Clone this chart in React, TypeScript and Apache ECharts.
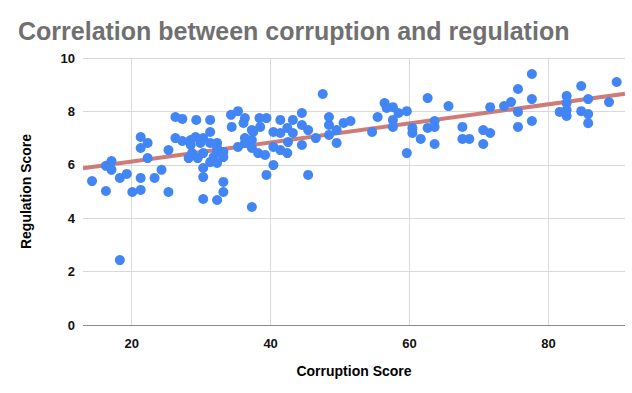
import React, { useEffect, useRef } from "react";
import * as echarts from "echarts";

const corruption: number[] = [
  14.3, 16.3, 16.3, 17.1, 17.1, 18.3, 18.3, 19.3, 20.1, 21.3, 21.3, 21.3, 21.3, 22.3, 22.3, 23.3, 24.3, 25.3, 25.3, 26.3,
  27.3, 26.3, 27.3, 29.3, 31.3, 28.5, 29.2, 28.5, 29.9, 30.3, 31.3, 31.3, 32.3, 28.7, 29.5, 30.3, 32.3, 33.2, 31.3, 32.3,
  30.3, 30.3, 33.2, 33.2, 30.3, 32.3, 28.2, 31.8, 33.2, 32.3, 34.3, 35.3, 36.3, 34.4, 36.1, 38.4, 39.4, 38.5, 37.5, 37.3,
  35.3, 36.3, 37.3, 38.2, 39.2, 40.4, 41.4, 42.4, 40.4, 39.4, 37.3, 41.4, 42.4, 40.4, 41.4, 36.3, 37.3, 42.5, 43.2, 43.2,
  44.5, 44.5, 44.5, 45.4, 45.4, 46.5, 47.5, 48.4, 48.4, 48.4, 49.5, 49.5, 50.5, 51.5, 54.6, 55.4, 56.4, 56.7, 57.6, 57.6,
  57.6, 58.4, 59.6, 59.6, 60.4, 60.4, 61.6, 62.6, 62.6, 63.6, 63.6, 63.6, 65.6, 67.6, 67.6, 68.6, 70.6, 71.6, 70.6, 71.6,
  73.6, 74.6, 75.6, 75.6, 75.6, 77.6, 77.6, 77.6, 81.6, 82.6, 82.6, 82.6, 82.6, 84.7, 84.7, 85.7, 85.7, 85.7, 88.7, 89.8,
];

const regulation: number[] = [
  5.39, 5.02, 5.96, 6.14, 5.81, 2.43, 5.51, 5.66, 4.98, 5.06, 5.51, 7.04, 6.63, 6.82, 6.25, 5.51, 5.81, 4.98, 6.55, 7.79,
  7.72, 7.0, 6.89, 7.68, 7.68, 6.93, 7.04, 6.74, 6.82, 7.0, 7.23, 6.82, 6.82, 6.44, 6.25, 6.44, 6.48, 6.48, 6.1, 6.07,
  5.88, 5.54, 5.36, 4.98, 4.72, 4.68, 6.25, 6.29, 6.29, 6.63, 7.87, 8.01, 7.75, 7.42, 7.57, 7.75, 7.75, 7.42, 7.23, 6.93,
  6.67, 6.82, 6.63, 6.44, 6.37, 6.67, 6.55, 6.44, 5.99, 5.62, 4.42, 7.68, 7.38, 7.23, 7.19, 7.0, 7.3, 6.85, 7.68, 7.19,
  7.94, 7.49, 6.74, 7.3, 5.62, 7.0, 8.65, 7.79, 7.49, 7.12, 7.3, 6.82, 7.57, 7.64, 7.23, 7.79, 8.31, 8.13, 8.16, 7.68,
  7.42, 7.94, 8.01, 6.44, 7.38, 7.19, 6.97, 8.5, 7.38, 7.64, 7.42, 6.78, 8.2, 7.42, 6.97, 6.97, 7.3, 7.19, 6.78, 8.16,
  8.2, 8.35, 8.84, 7.98, 7.42, 9.4, 8.46, 7.64, 7.98, 8.58, 8.31, 8.05, 7.83, 8.95, 8.01, 8.46, 7.9, 7.56, 8.35, 9.1,
];

// trendline endpoints
const trendX: number[] = [13, 91];
const trendY: number[] = [5.87, 8.66];

const xTicks: number[] = [20, 40, 60, 80];

const FONT = "'Liberation Sans', Arial, sans-serif";

export default function App() {
  const ref = useRef<HTMLDivElement>(null);
  useEffect(() => {
    if (!ref.current) return;
    const chart = echarts.init(ref.current, undefined, { renderer: "svg" });
    const points = corruption.map((x, i) => [x, regulation[i]]);
    const trend = trendX.map((x, i) => [x, trendY[i]]);
    chart.setOption({
      animation: false,
      backgroundColor: "#ffffff",
      textStyle: { fontFamily: FONT },
      title: {
        text: "Correlation between corruption and regulation",
        left: 13,
        top: 13,
        textStyle: { fontFamily: FONT, fontSize: 25, fontWeight: "bold", color: "#707070" },
      },
      grid: { left: 83, right: 7, top: 58, bottom: 68, containLabel: false },
      xAxis: {
        type: "value",
        min: 13,
        max: 91,
        splitNumber: 4,
        name: "Corruption Score",
        nameLocation: "middle",
        nameGap: 39,
        nameTextStyle: { fontFamily: FONT, fontSize: 14, fontWeight: "bold", color: "#000" },
        axisLine: { show: false },
        axisTick: { show: false },
        axisLabel: {
          fontFamily: FONT,
          fontSize: 13,
          fontWeight: "bold",
          color: "#111",
          margin: 12,
          formatter: (v: number) => (xTicks.includes(Math.round(v)) && Math.abs(v - Math.round(v)) < 1e-6 ? String(v) : ""),
        },
        splitLine: {
          show: true,
          lineStyle: {
            color: ["rgba(0,0,0,0)", "#d9d9d9", "#d9d9d9", "#d9d9d9", "#d9d9d9", "rgba(0,0,0,0)"],
            width: 1,
          },
        },
      },
      yAxis: {
        type: "value",
        min: 0,
        max: 10,
        interval: 2,
        name: "Regulation Score",
        nameLocation: "middle",
        nameGap: 50,
        nameTextStyle: { fontFamily: FONT, fontSize: 14, fontWeight: "bold", color: "#000" },
        axisLine: { show: false },
        axisTick: { show: false },
        axisLabel: { fontFamily: FONT, fontSize: 13, fontWeight: "bold", color: "#111", margin: 8 },
        splitLine: {
          show: true,
          lineStyle: { color: ["#8a8a8a", "#d9d9d9", "#d9d9d9", "#d9d9d9", "#d9d9d9", "#d9d9d9"], width: 1 },
        },
      },
      series: [
        {
          type: "line",
          data: trend,
          symbol: "none",
          z: 1,
          lineStyle: { color: "#cc7470", width: 4, opacity: 0.95 },
          silent: true,
        },
        {
          type: "scatter",
          data: points,
          symbol: "circle",
          symbolSize: 10,
          z: 2,
          itemStyle: { color: "#4285f4", opacity: 1 },
        },
      ],
    });
    return () => chart.dispose();
  }, []);
  return (
    <div
      ref={ref}
      style={{ position: "fixed", left: 0, top: 0, width: 632, height: 393, background: "#fff" }}
    />
  );
}
